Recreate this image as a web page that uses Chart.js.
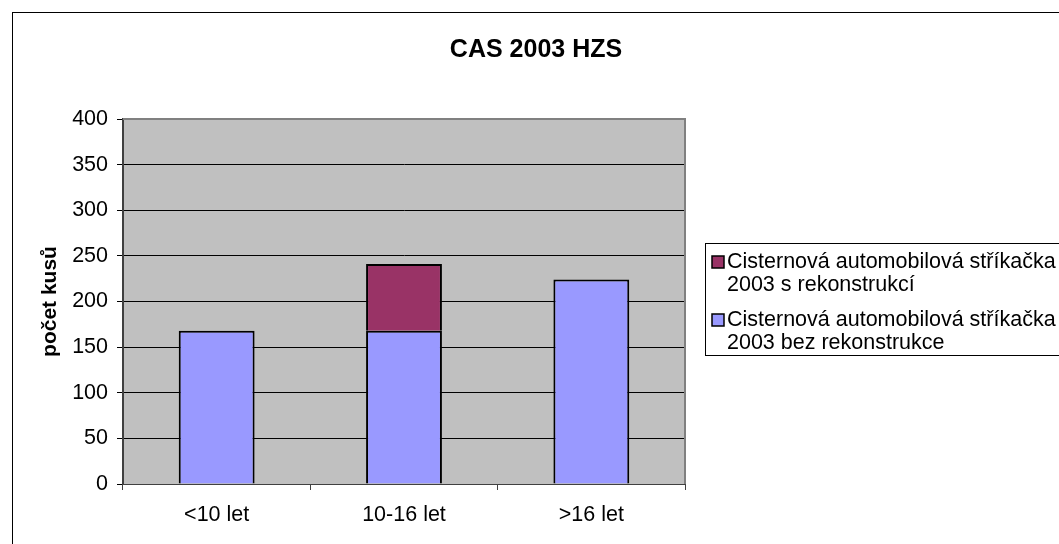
<!DOCTYPE html>
<html>
<head>
<meta charset="utf-8">
<script src="https://cdn.jsdelivr.net/npm/chart.js@4"></script>
<style>
  html, body { margin: 0; padding: 0; background: #fff; }
  #wrap { width: 1059px; height: 544px; }
</style>
</head>
<body>
<div id="wrap"><canvas id="chart" width="1059" height="544"></canvas></div>
<script>
const title = "CAS 2003 HZS";
const categories = ["<10 let", "10-16 let", ">16 let"];
const bezRekonstrukce = [168, 168, 224];
const sRekonstrukci = [0, 73, 0];
const labelBez = ["Cisternová automobilová stříkačka", "2003 bez rekonstrukce"];
const labelS = ["Cisternová automobilová stříkačka", "2003 s rekonstrukcí"];
const yTitle = "počet kusů";

const FONT = "'Liberation Sans', Arial, sans-serif";
Chart.defaults.font.family = FONT;
Chart.defaults.color = "#000";

// frame, plot background, title and boxed legend
const excelLook = {
  id: "excelLook",
  beforeDraw(chart) {
    const ctx = chart.ctx;
    const a = chart.chartArea;
    ctx.save();
    ctx.fillStyle = "#fff";
    ctx.fillRect(0, 0, chart.width, chart.height);
    ctx.strokeStyle = "#000";
    ctx.lineWidth = 1;
    ctx.strokeRect(12.5, 12.5, chart.width + 20, chart.height + 20);
    ctx.fillStyle = "#C0C0C0";
    ctx.fillRect(a.left, a.top, a.right - a.left, a.bottom - a.top);
    ctx.restore();
  },
  afterDraw(chart) {
    const ctx = chart.ctx;
    const a = chart.chartArea;
    ctx.save();
    // gray top/right edge of plot
    ctx.strokeStyle = "#808080";
    ctx.lineWidth = 2;
    ctx.beginPath();
    ctx.moveTo(a.left, a.top);
    ctx.lineTo(a.right, a.top);
    ctx.lineTo(a.right, a.bottom);
    ctx.stroke();

    // title
    ctx.fillStyle = "#000";
    ctx.font = "bold 25px " + FONT;
    ctx.textAlign = "center";
    ctx.textBaseline = "middle";
    ctx.fillText(title, 536, 50);

    // legend box
    ctx.strokeStyle = "#000";
    ctx.lineWidth = 1;
    ctx.strokeRect(705.5, 243.5, 400, 112);
    const items = [
      { lines: labelS, color: chart.data.datasets[1].backgroundColor, y: 262 },
      { lines: labelBez, color: chart.data.datasets[0].backgroundColor, y: 320 }
    ];
    ctx.font = "21.5px " + FONT;
    ctx.textAlign = "left";
    items.forEach((it) => {
      ctx.fillStyle = it.color;
      ctx.fillRect(712, it.y - 6, 12, 12);
      ctx.strokeStyle = "#000";
      ctx.lineWidth = 1.5;
      ctx.strokeRect(712, it.y - 6, 12, 12);
      ctx.fillStyle = "#000";
      it.lines.forEach((t, i) => {
        ctx.fillText(t, 727, it.y + i * 23);
      });
    });
    ctx.restore();
  }
};

new Chart(document.getElementById("chart"), {
  type: "bar",
  data: {
    labels: categories,
    datasets: [
      {
        label: labelBez.join(" "),
        data: bezRekonstrukce,
        backgroundColor: "#9999FF",
        borderColor: "#000",
        borderWidth: 2,
        categoryPercentage: 1,
        barPercentage: 0.405
      },
      {
        label: labelS.join(" "),
        data: sRekonstrukci,
        backgroundColor: "#993366",
        borderColor: "#000",
        borderWidth: 2,
        categoryPercentage: 1,
        barPercentage: 0.405
      }
    ]
  },
  options: {
    responsive: false,
    animation: false,
    layout: { padding: { left: 12, top: 119, right: 374, bottom: 0 } },
    plugins: {
      legend: { display: false },
      title: { display: false },
      tooltip: { enabled: false }
    },
    scales: {
      x: {
        stacked: true,
        afterFit(scale) { scale.height = 60; },
        grid: {
          offset: true,
          drawOnChartArea: false,
          tickLength: 6,
          tickColor: "#404040"
        },
        border: { color: "#404040", width: 1 },
        ticks: { font: { size: 21.5 }, padding: 12, color: "#000" }
      },
      y: {
        stacked: true,
        min: 0,
        max: 400,
        afterFit(scale) { scale.width = 111; },
        grid: { color: "#000", lineWidth: 1, tickLength: 6, tickColor: "#000" },
        border: { color: "#404040", width: 2 },
        ticks: { stepSize: 50, font: { size: 21.5 }, padding: 9, color: "#000" },
        title: {
          display: true,
          text: yTitle,
          font: { size: 21, weight: "bold" },
          padding: { top: 26, bottom: 0 },
          color: "#000"
        }
      }
    }
  },
  plugins: [excelLook]
});
</script>
</body>
</html>
